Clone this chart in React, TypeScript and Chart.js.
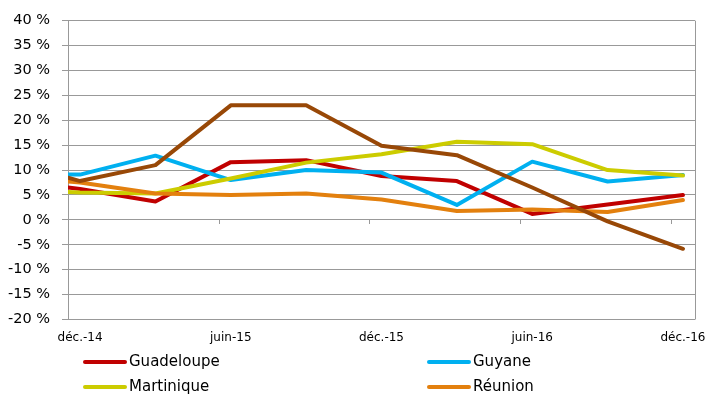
import { useEffect, useRef } from "react";
import { Chart, registerables } from "chart.js";

Chart.register(...registerables);

// Quarter positions along the time axis (0 = déc.-14, 8 = déc.-16);
// the axis starts a little before the first quarter.
const axisStart = -0.16;
const axisEnd = 8.16;
const quarterPos = [axisStart, 0, 1, 2, 3, 4, 5, 6, 7, 8];

const tickPos = [0, 2, 4, 6, 8];
const tickLabels = ["déc.-14", "juin-15", "déc.-15", "juin-16", "déc.-16"];

// Year-on-year change, in %
const guadeloupe = [6.5, 6.2, 3.7, 11.6, 12.0, 8.8, 7.8, 1.2, 3.1, 5.0];
const guyane = [9.1, 9.1, 12.9, 8.0, 10.0, 9.5, 3.0, 11.7, 7.7, 9.0];
const martinique = [5.6, 5.5, 5.3, 8.3, 11.5, 13.2, 15.7, 15.2, 10.0, 8.9];
const reunion = [7.7, 7.5, 5.3, 5.0, 5.3, 4.1, 1.8, 2.1, 1.6, 4.0];
const mayotte = [8.5, 7.8, 11.0, 23.0, 23.0, 14.9, 13.0, 6.5, -0.3, -5.8];

const seriesNames = ["Guadeloupe", "Guyane", "Martinique", "Réunion", "Mayotte"];
const seriesValues = [guadeloupe, guyane, martinique, reunion, mayotte];
const seriesColors = ["#C00000", "#00B0F0", "#CCCC00", "#E3800E", "#984807"];

const GRID = "#999999";
const FONT = "'DejaVu Sans', Verdana, sans-serif";

// Right frame edge and the small axis tick marks on the 0 % line
const framePlugin = {
  id: "frame",
  beforeDatasetsDraw(chart: any) {
    const { ctx, chartArea: a, scales } = chart;
    const x = scales.x;
    const y = scales.y;
    ctx.save();
    ctx.strokeStyle = GRID;
    ctx.lineWidth = 1;
    ctx.beginPath();
    const rx = Math.round(a.right) + 0.5;
    ctx.moveTo(rx, a.top);
    ctx.lineTo(rx, a.bottom);
    const y0 = Math.round(y.getPixelForValue(0));
    for (let k = 1; k < tickPos.length; k++) {
      const px = Math.round(x.getPixelForValue(axisStart + tickPos[k])) + 0.5;
      ctx.moveTo(px, y0);
      ctx.lineTo(px, y0 + 4);
    }
    ctx.stroke();
    ctx.restore();
  },
};

// Two-column legend below the axis
const legendPlugin = {
  id: "twoColLegend",
  afterDraw(chart: any) {
    const { ctx } = chart;
    const colX = [83, 427];
    const rowY = [362, 387, 412];
    ctx.save();
    ctx.font = `15px ${FONT}`;
    ctx.textBaseline = "middle";
    ctx.textAlign = "left";
    chart.data.datasets.forEach((ds: any, i: number) => {
      const cx = colX[i % 2];
      const cy = rowY[Math.floor(i / 2)];
      ctx.strokeStyle = ds.borderColor;
      ctx.lineWidth = 4;
      ctx.lineCap = "round";
      ctx.beginPath();
      ctx.moveTo(cx + 2, cy);
      ctx.lineTo(cx + 42, cy);
      ctx.stroke();
      ctx.fillStyle = "#000";
      ctx.fillText(ds.label, cx + 46, cy);
    });
    ctx.restore();
  },
};

export default function App() {
  const ref = useRef<HTMLCanvasElement>(null);

  useEffect(() => {
    if (!ref.current) return;
    const chart = new Chart(ref.current, {
      type: "line",
      data: {
        datasets: seriesNames.map((name, i) => ({
          label: name,
          data: seriesValues[i].map((v, j) => ({ x: quarterPos[j], y: v })),
          borderColor: seriesColors[i],
          backgroundColor: seriesColors[i],
          borderWidth: 4,
          borderJoinStyle: "round" as const,
          borderCapStyle: "round" as const,
          pointRadius: 0,
          tension: 0,
          fill: false,
          order: seriesNames.length - i,
        })),
      },
      options: {
        responsive: false,
        animation: false,
        layout: { padding: { left: 0, top: 20.5, right: 11, bottom: 0 } },
        plugins: { legend: { display: false }, tooltip: { enabled: false } },
        scales: {
          x: {
            type: "linear",
            min: axisStart,
            max: axisEnd,
            grid: { display: false, drawTicks: false },
            border: { display: false },
            afterBuildTicks: (s: any) => {
              s.ticks = tickPos.map((v) => ({ value: v }));
            },
            afterFit: (s: any) => {
              s.height = 394 - 319.5;
              s.paddingLeft = 0;
              s.paddingRight = 0;
            },
            ticks: {
              autoSkip: false,
              maxRotation: 0,
              padding: 11,
              color: "#000",
              font: { family: FONT, size: 12 },
              callback: (v: any) => {
                const k = tickPos.indexOf(Number(v));
                return k >= 0 ? tickLabels[k] : "";
              },
            },
          },
          y: {
            min: -20,
            max: 40,
            afterFit: (s: any) => {
              s.width = 68;
            },
            grid: { color: GRID, lineWidth: 1, drawTicks: true, tickLength: 6, tickColor: GRID },
            border: { display: true, color: GRID, width: 1 },
            ticks: {
              stepSize: 5,
              padding: 12,
              color: "#000",
              font: { family: FONT, size: 14.5 },
              callback: (v: any) => `${v}\u00A0%`,
            },
          },
        },
      },
      plugins: [framePlugin, legendPlugin],
    });
    return () => chart.destroy();
  }, []);

  return (
    <div style={{ position: "absolute", left: 0, top: 0, width: 706, height: 394, background: "#fff" }}>
      <canvas ref={ref} width={706} height={394} style={{ display: "block" }} />
    </div>
  );
}
